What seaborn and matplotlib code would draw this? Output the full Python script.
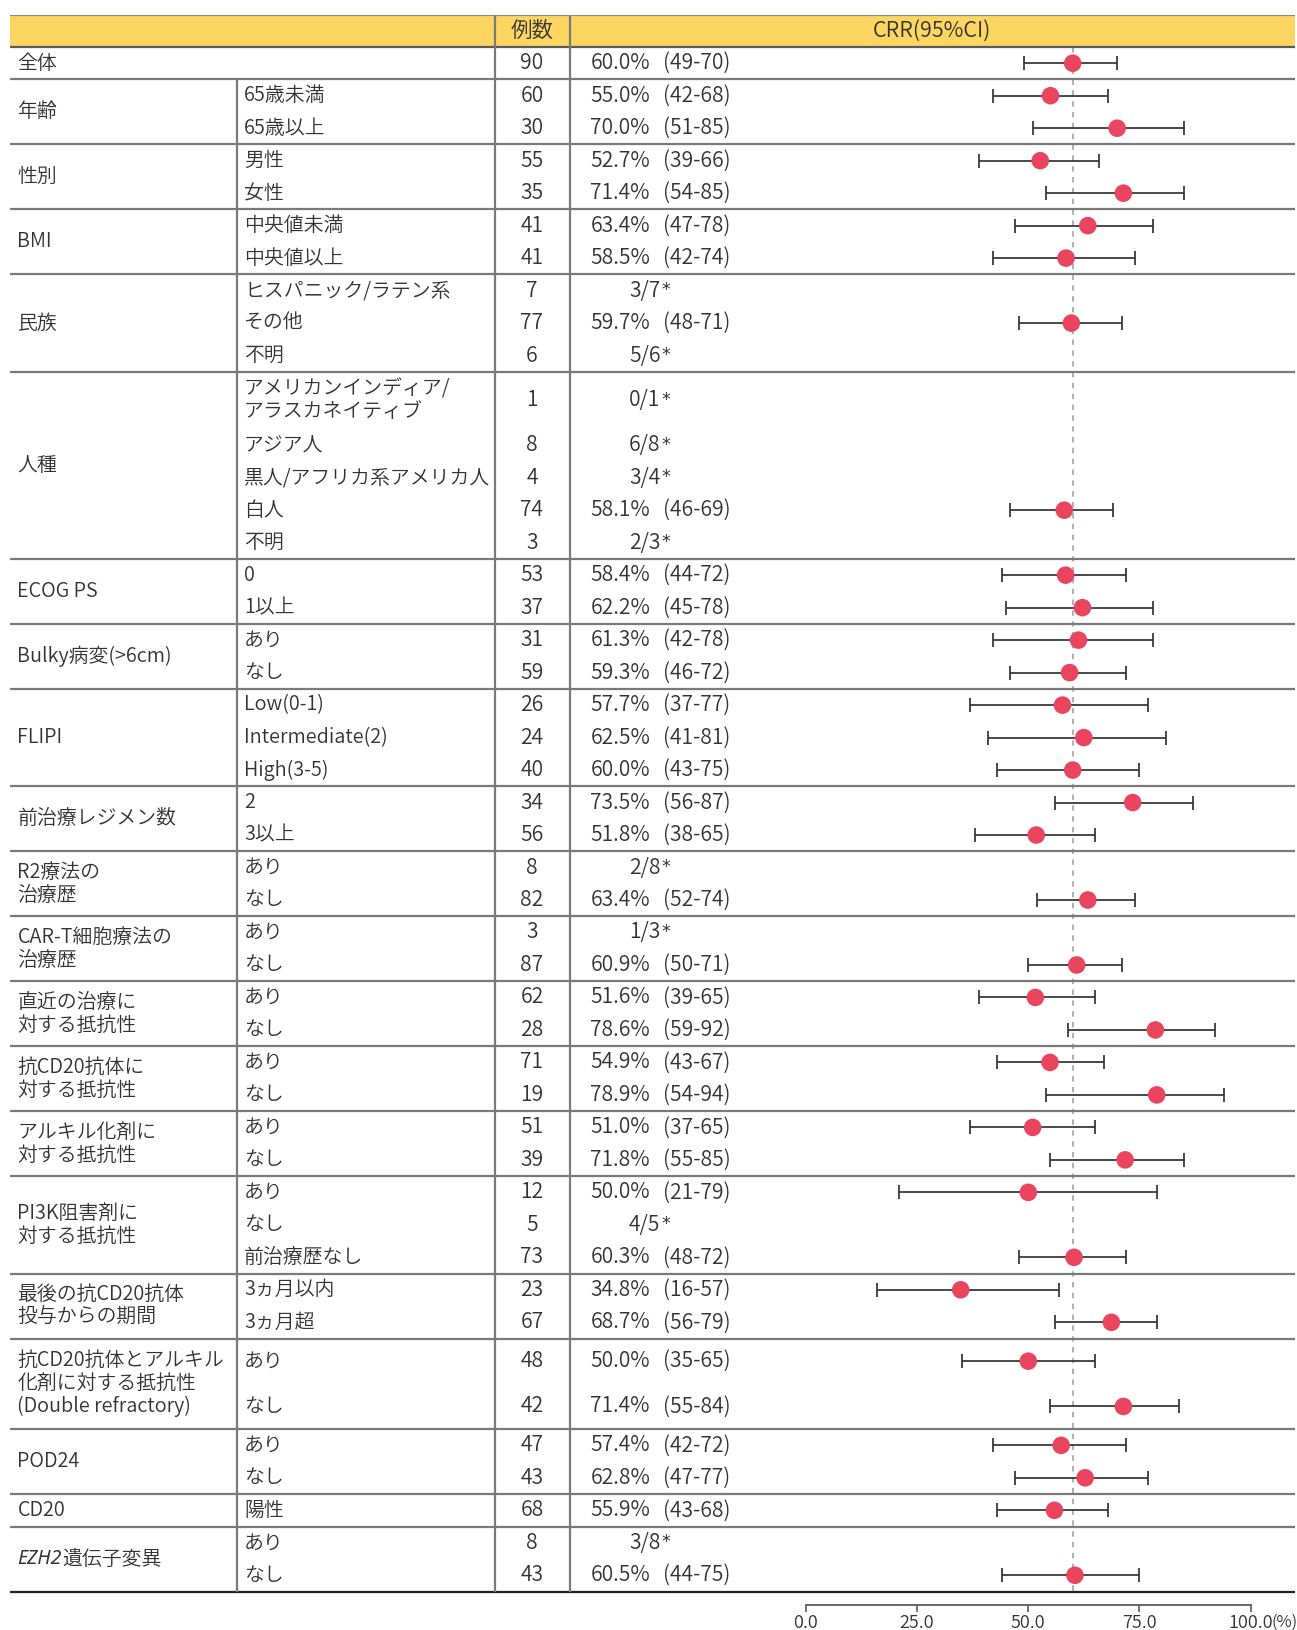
import numpy as np
import pandas as pd
import matplotlib
matplotlib.use("Agg")
import matplotlib.pyplot as plt
import seaborn as sns

# ---------------- data ----------------
group_labels = ["全体", "年齢", "性別", "BMI", "民族", "人種", "ECOG PS", "Bulky病変(>6cm)",
                "FLIPI", "前治療レジメン数", "R2療法の\n治療歴", "CAR-T細胞療法の\n治療歴",
                "直近の治療に\n対する抵抗性", "抗CD20抗体に\n対する抵抗性", "アルキル化剤に\n対する抵抗性",
                "PI3K阻害剤に\n対する抵抗性", "最後の抗CD20抗体\n投与からの期間",
                "抗CD20抗体とアルキル\n化剤に対する抵抗性\n(Double refractory)",
                "POD24", "CD20", "EZH2遺伝子変異"]
group_sizes = [1, 2, 2, 2, 3, 5, 2, 2, 3, 2, 2, 2, 2, 2, 2, 3, 2, 2, 2, 1, 2]

sub_labels = ["", "65歳未満", "65歳以上", "男性", "女性", "中央値未満", "中央値以上",
              "ヒスパニック/ラテン系", "その他", "不明",
              "アメリカンインディア/\nアラスカネイティブ", "アジア人", "黒人/アフリカ系アメリカ人", "白人", "不明",
              "0", "1以上", "あり", "なし", "Low(0-1)", "Intermediate(2)", "High(3-5)",
              "2", "3以上", "あり", "なし", "あり", "なし", "あり", "なし", "あり", "なし",
              "あり", "なし", "あり", "なし", "前治療歴なし", "3ヵ月以内", "3ヵ月超",
              "あり", "なし", "あり", "なし", "陽性", "あり", "なし"]

n_cases = [90, 60, 30, 55, 35, 41, 41, 7, 77, 6, 1, 8, 4, 74, 3, 53, 37, 31, 59, 26, 24, 40,
           34, 56, 8, 82, 3, 87, 62, 28, 71, 19, 51, 39, 12, 5, 73, 23, 67, 48, 42, 47, 43, 68, 8, 43]

nan = np.nan
crr = [60.0, 55.0, 70.0, 52.7, 71.4, 63.4, 58.5, nan, 59.7, nan, nan, nan, nan, 58.1, nan,
       58.4, 62.2, 61.3, 59.3, 57.7, 62.5, 60.0, 73.5, 51.8, nan, 63.4, nan, 60.9, 51.6, 78.6,
       54.9, 78.9, 51.0, 71.8, 50.0, nan, 60.3, 34.8, 68.7, 50.0, 71.4, 57.4, 62.8, 55.9, nan, 60.5]
ci_low = [49, 42, 51, 39, 54, 47, 42, nan, 48, nan, nan, nan, nan, 46, nan,
          44, 45, 42, 46, 37, 41, 43, 56, 38, nan, 52, nan, 50, 39, 59,
          43, 54, 37, 55, 21, nan, 48, 16, 56, 35, 55, 42, 47, 43, nan, 44]
ci_high = [70, 68, 85, 66, 85, 78, 74, nan, 71, nan, nan, nan, nan, 69, nan,
           72, 78, 78, 72, 77, 81, 75, 87, 65, nan, 74, nan, 71, 65, 92,
           67, 94, 65, 85, 79, nan, 72, 57, 79, 65, 84, 72, 77, 68, nan, 75]
frac_labels = ["", "", "", "", "", "", "", "3/7", "", "5/6", "0/1", "6/8", "3/4", "", "2/3",
               "", "", "", "", "", "", "", "", "", "2/8", "", "1/3", "", "", "",
               "", "", "", "", "", "4/5", "", "", "", "", "", "", "", "", "3/8", ""]

tick_values = [0, 25, 50, 75, 100]
tick_labels = ["0.0", "25.0", "50.0", "75.0", "100.0"]
unit_label = "(%)"
header_n = "例数"
header_crr = "CRR(95%CI)"

# ---------------- style ----------------
sns.set_theme(style="white")
plt.rcParams['font.family'] = ['Noto Sans CJK JP', 'DejaVu Sans']
plt.rcParams['font.weight'] = 350
TXT = '#333333'
FS_LAB = 14.3
FS_NUM = 15.2
FS_HEAD = 15.5
TFS = 13.0
DOT = '#E9455E'

W, H = 1297, 1630
fig = plt.figure(figsize=(W / 100, H / 100), dpi=100)
AX_L, AX_R = 10, 1295
AX_T, AX_B = 14.5, 1604.5
ax = fig.add_axes([AX_L / W, 1 - AX_B / H, (AX_R - AX_L) / W, (AX_B - AX_T) / H])

X0_PX, X100_PX = 806, 1250.5
PPU = (X100_PX - X0_PX) / 100


def xd(px):
    return (px - X0_PX) / PPU


# y layout (row units)
nrows = len(sub_labels)
heights = np.ones(nrows)
heights[10] = 1.76
heights[39] = heights[40] = 1.394
HEADER = 1.0
tops = HEADER + np.concatenate([[0], np.cumsum(heights)[:-1]])
centers = tops + heights / 2
table_bottom = HEADER + heights.sum()

# header band
ax.axhspan(0, HEADER, xmin=0, xmax=1, color='#FCD660', lw=0, zorder=0)
ax.axhline(0, color='#8a8a8a', lw=1.6, zorder=2)
ax.axhline(HEADER, color='#5a5a5a', lw=1.6, zorder=2)

# group lines and labels
starts = np.concatenate([[0], np.cumsum(group_sizes)])
for g, lab in enumerate(group_labels):
    i0, i1 = starts[g], starts[g + 1]
    ytop = tops[i0]
    ybot = tops[i1 - 1] + heights[i1 - 1]
    yc = (ytop + ybot) / 2
    if g < len(group_labels) - 1:
        ax.axhline(ybot, color='#7a7a7a', lw=1.6, zorder=2)
    if lab.startswith("EZH2"):
        t1 = ax.text(xd(17.5), yc, "EZH2", ha='left', va='center', fontsize=FS_LAB - 0.3, color=TXT,
                     family=['Noto Sans', 'DejaVu Sans'], style='italic', fontweight='light')
        ax.annotate(lab[4:], xy=(1, 0.5), xycoords=t1, ha='left', va='center',
                    fontsize=FS_LAB, color=TXT)
    else:
        ax.text(xd(17.5), yc, lab, ha='left', va='center', fontsize=FS_LAB, color=TXT,
                linespacing=1.12)
ax.axhline(table_bottom, color='#222222', lw=1.6, zorder=2)

# vertical separators
ax.vlines([xd(495), xd(570)], 0, table_bottom, colors='#7a7a7a', lw=1.6, zorder=2)
ax.vlines(xd(237), tops[1], table_bottom, colors='#7a7a7a', lw=1.6, zorder=2)

# header text
ax.text(xd(532), HEADER / 2, header_n, ha='center', va='center', fontsize=FS_HEAD, color=TXT)
ax.text(xd(932), HEADER / 2, header_crr, ha='center', va='center', fontsize=FS_HEAD, color=TXT)

# row texts
for i in range(nrows):
    y = centers[i]
    if sub_labels[i]:
        ax.text(xd(244), y, sub_labels[i], ha='left', va='center', fontsize=FS_LAB, color=TXT,
                linespacing=1.12)
    ax.text(xd(532), y, str(n_cases[i]), ha='center', va='center', fontsize=FS_NUM, color=TXT)
    if frac_labels[i]:
        t = ax.text(xd(629), y, frac_labels[i], ha='left', va='center', fontsize=FS_NUM, color=TXT)
        ax.annotate('*', xy=(1, 1), xycoords=t, xytext=(1, -1), textcoords='offset points',
                    ha='left', va='top', fontsize=12.5, color=TXT,
                    family=['DejaVu Sans'], fontweight='normal')
    else:
        ax.text(xd(590.5), y, f"{crr[i]:.1f}%", ha='left', va='center', fontsize=FS_NUM, color=TXT)
        ax.text(xd(663), y, f"({ci_low[i]:.0f}-{ci_high[i]:.0f})", ha='left', va='center',
                fontsize=FS_NUM, color=TXT)

# reference line at overall CRR
ax.vlines(crr[0], HEADER, table_bottom, colors='#aaaaaa', linestyles=(0, (3, 3)), lw=1.3, zorder=1)

# forest plot
df = pd.DataFrame({"crr": crr, "lo": ci_low, "hi": ci_high, "y": centers}).dropna()
ax.errorbar(df["crr"], df["y"], xerr=[df["crr"] - df["lo"], df["hi"] - df["crr"]],
            fmt='none', ecolor='#3a3a3a', elinewidth=1.3, capsize=5, capthick=1.3, zorder=3)
sns.scatterplot(data=df, x="crr", y="y", s=160, color=DOT, edgecolor='none', linewidth=0,
                zorder=5, ax=ax, legend=False)

ax.set_xlim(xd(AX_L), xd(AX_R))
ax.set_ylim(table_bottom + 0.40, 0)
ax.set_xlabel("")
ax.set_ylabel("")
for s in ['top', 'left', 'right']:
    ax.spines[s].set_visible(False)
ax.spines['bottom'].set_bounds(0, 100)
ax.spines['bottom'].set_color('#666666')
ax.spines['bottom'].set_linewidth(1.4)
ax.set_yticks([])
ax.set_xticks(tick_values)
ax.set_xticklabels(tick_labels)
ax.tick_params(axis='x', direction='out', length=5, width=1.3, color='#666666',
               labelsize=TFS, labelcolor=TXT, pad=1.5, bottom=True)
last_lbl = ax.get_xticklabels()[-1]
ax.annotate(unit_label, xy=(1, 0.5), xycoords=last_lbl, xytext=(-1, 0), textcoords='offset points',
            ha='left', va='center', fontsize=12, color=TXT)
ax.set_facecolor('white')

fig.savefig("out.png", dpi=100, facecolor='white')
